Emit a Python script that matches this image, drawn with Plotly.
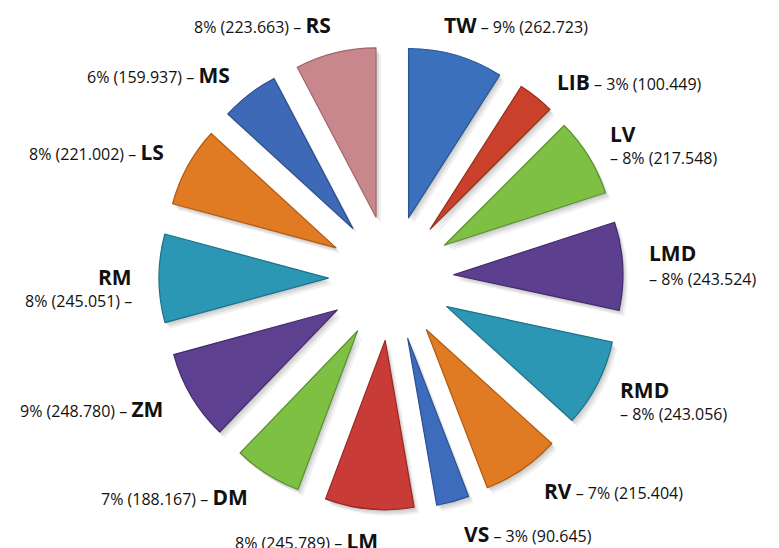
import plotly.graph_objects as go

# Regions, in clockwise order starting at 12 o'clock
codes = ["TW", "LIB", "LV", "LMD", "RMD", "RV", "VS",
         "LM", "DM", "ZM", "RM", "LS", "MS", "RS"]
values = [262.723, 100.449, 217.548, 243.524, 243.056, 215.404, 90.645,
          245.789, 188.167, 248.780, 245.051, 221.002, 159.937, 223.663]
percents = [9, 3, 8, 8, 8, 7, 3, 8, 7, 9, 8, 8, 6, 8]
colors = ["#3b70bd", "#c9412b", "#7dc043", "#5c3f8f", "#2b97b5", "#e07a23", "#3d6cbc",
          "#c83b36", "#7dc043", "#5d4190", "#2b97b5", "#e07a23", "#3d69b6", "#c8878c"]
edge_colors = ["#2a5594", "#992c1c", "#5a9130", "#43296c", "#1d7189", "#b25a12", "#2a4f92",
               "#982621", "#5a9130", "#432a6c", "#1d7189", "#b25a12", "#2a4d8c", "#a2666b"]

W, H = 779, 548
PULL = 0.37
FONT = "Open Sans, Noto Sans, Arial, sans-serif"
BIG, SMALL = 21, 16


def px(x, y):
    """Pixel position (top-left origin) -> paper coordinates."""
    return x / W, (H - y) / H


# square pie box centred on the hub
cx, cy, half = 391, 278, 232
dom_x = [(cx - half) / W, (cx + half) / W]
dom_y = [(H - cy - half) / H, (H - cy + half) / H]


def shifted(dom, d, size):
    return [dom[0] + d / size, dom[1] + d / size]


fig = go.Figure()

# soft drop shadow beneath the wedges
for dx, dy, alpha in [(5, 6, 0.06), (3, 4, 0.08), (1.5, 2, 0.08)]:
    fig.add_trace(go.Pie(
        values=values, labels=codes, sort=False, direction="clockwise", rotation=0,
        pull=[PULL] * len(values), textinfo="none", hoverinfo="skip",
        marker=dict(colors=[f"rgba(0,0,0,{alpha})"] * len(values), line=dict(width=0)),
        domain=dict(x=shifted(dom_x, dx, W), y=shifted(dom_y, -dy, H)),
        showlegend=False,
    ))

# the wedges themselves
fig.add_trace(go.Pie(
    values=values, labels=codes, sort=False, direction="clockwise", rotation=0,
    pull=[PULL] * len(values), textinfo="none",
    customdata=percents,
    hovertemplate="%{label}: %{customdata}% (%{value:.3f})<extra></extra>",
    marker=dict(colors=colors, line=dict(color=edge_colors, width=1.2)),
    domain=dict(x=dom_x, y=dom_y),
    showlegend=False,
))


def fmt_val(v):
    return f"{v:.3f}"


def big(code):
    return f"<span style='font-size:{BIG}px'><b>{code}</b></span>"


annotations = []


def add(text, x, y, anchor):
    ax, ay = px(x, y)
    annotations.append(dict(
        text=text, x=ax, y=ay, xref="paper", yref="paper",
        xanchor=anchor, yanchor="middle", showarrow=False,
        font=dict(family=FONT, size=SMALL, color="#111111"),
    ))


# label placement per region: side, x, first-line y, second-line y
label_layout = {
    "RS": ("right", 333, 25, None),
    "TW": ("left", 442, 25, None),
    "LIB": ("left", 555, 82, None),
    "LV": ("left", 608, 134, 158),
    "LMD": ("left", 647, 253, 279),
    "RMD": ("left", 618, 390, 414),
    "RV": ("left", 542, 491, None),
    "VS": ("left", 462, 534, None),
    "LM": ("right", 380, 541, None),
    "DM": ("right", 250, 497, None),
    "ZM": ("right", 165, 409, None),
    "RM": ("right", 134, 277, 301),
    "LS": ("right", 166, 152, None),
    "MS": ("right", 232, 75, None),
}

for code, v, p in zip(codes, values, percents):
    side, x, y1, y2 = label_layout[code]
    stat = f"{p}% ({fmt_val(v)})"
    if y2 is None:
        if side == "left":
            add(f"{big(code)} – {stat}", x, y1, "left")
        else:
            add(f"{stat} – {big(code)}", x, y1, "right")
    else:
        add(big(code), x, y1, side)
        if side == "left":
            add(f"– {stat}", x, y2, side)
        else:
            add(f"{stat} –", x, y2, side)

fig.update_layout(
    width=W, height=H,
    margin=dict(l=0, r=0, t=0, b=0),
    paper_bgcolor="white", plot_bgcolor="white",
    annotations=annotations,
    showlegend=False,
)

fig.write_html("out.html")
